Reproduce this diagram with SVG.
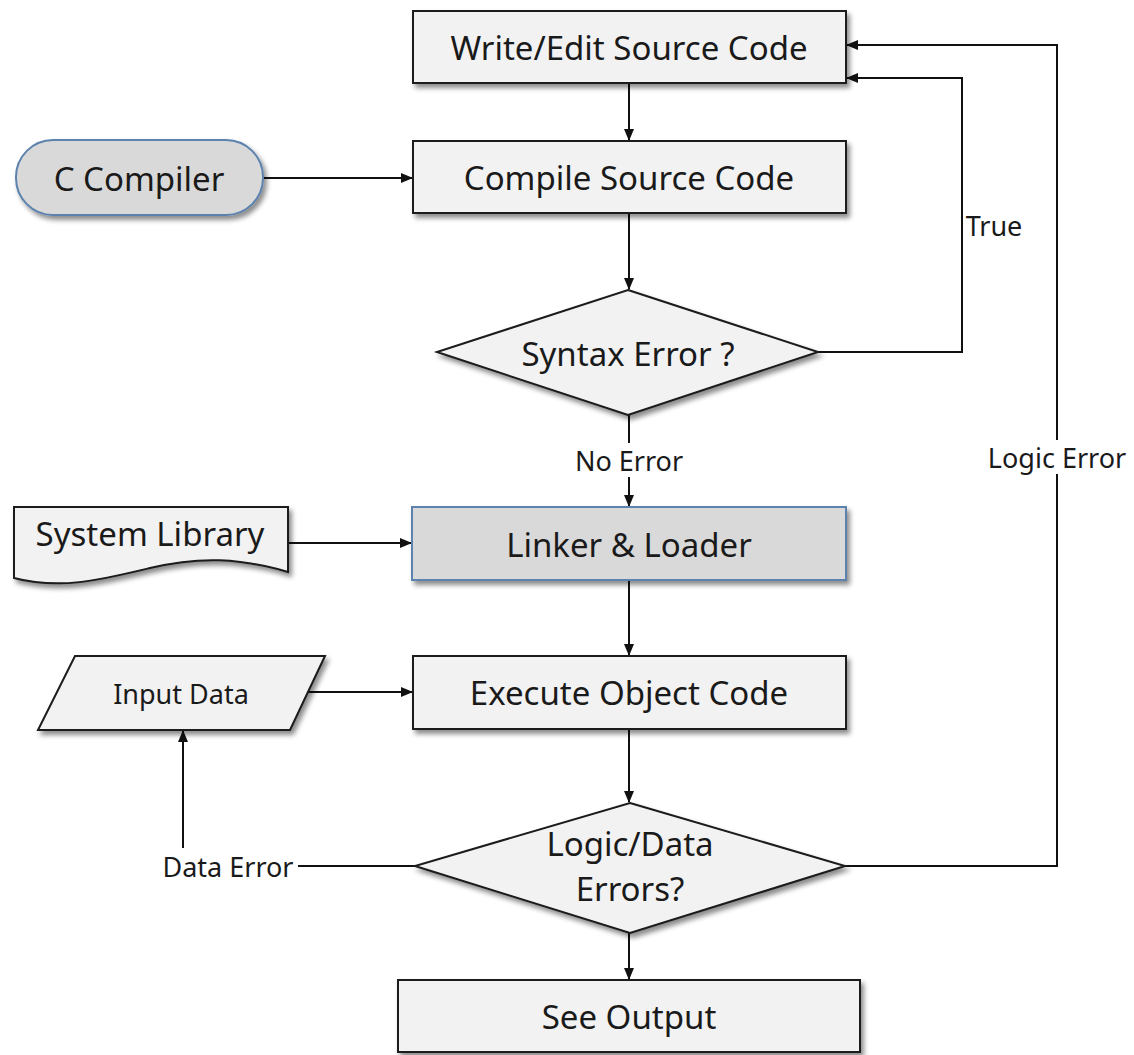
<svg xmlns="http://www.w3.org/2000/svg" width="1134" height="1055" viewBox="0 0 1134 1055">
  <defs>
    <filter id="shadow" x="-10%" y="-20%" width="130%" height="150%">
      <feDropShadow dx="3" dy="4" stdDeviation="2.5" flood-color="#000" flood-opacity="0.45"/>
    </filter>
    <marker id="arrow" markerUnits="userSpaceOnUse" markerWidth="12" markerHeight="10" refX="11" refY="5" orient="auto">
      <path d="M0,0 L12,5 L0,10 Z" fill="#111"/>
    </marker>
  </defs>
  <style>
    .box { fill: #f2f2f2; stroke: #1a1a1a; stroke-width: 2; }
    .term { fill: #d9d9d9; stroke: #5b82ad; stroke-width: 2; }
    .lbl { font-family: "Noto Sans", "Open Sans", sans-serif; font-size: 33px; fill: #1a1a1a; text-anchor: middle; dominant-baseline: central; }
    .small { font-family: "Noto Sans", "Open Sans", sans-serif; font-size: 27px; fill: #1a1a1a; text-anchor: middle; dominant-baseline: central; }
    .edge { fill: none; stroke: #111; stroke-width: 2; }
    .tag { fill: #fff; }
  </style>
  <rect width="1134" height="1055" fill="#fff"/>

  <g id="connectors">
    <path class="edge" d="M629,83 V140" marker-end="url(#arrow)"/>
    <path class="edge" d="M263,178 H412" marker-end="url(#arrow)"/>
    <path class="edge" d="M629,213 V289" marker-end="url(#arrow)"/>
    <path class="edge" d="M818,352 H962 V78 H847" marker-end="url(#arrow)"/>
    <path class="edge" d="M629,415 V506" marker-end="url(#arrow)"/>
    <path class="edge" d="M288,543 H411" marker-end="url(#arrow)"/>
    <path class="edge" d="M629,580 V655" marker-end="url(#arrow)"/>
    <path class="edge" d="M308,692 H412" marker-end="url(#arrow)"/>
    <path class="edge" d="M629,729 V802" marker-end="url(#arrow)"/>
    <path class="edge" d="M845,866 H1057 V45 H847" marker-end="url(#arrow)"/>
    <path class="edge" d="M415,866 H183 V731" marker-end="url(#arrow)"/>
    <path class="edge" d="M629,933 V979" marker-end="url(#arrow)"/>
    <!-- connector labels, with white backing where they sit on a line -->
    <text class="small" x="994" y="225">True</text>
    <rect class="tag" x="568" y="443" width="122" height="34"/>
    <text class="small" x="629" y="460">No Error</text>
    <rect class="tag" x="986" y="440" width="142" height="34"/>
    <text class="small" x="1057" y="457">Logic Error</text>
    <rect class="tag" x="158" y="848" width="140" height="36"/>
    <text class="small" x="228" y="866">Data Error</text>
  </g>

  <g id="write-edit">
    <rect class="box" x="413" y="11" width="433" height="72" filter="url(#shadow)"/>
    <text class="lbl" x="629" y="47">Write/Edit Source Code</text>
  </g>

  <g id="c-compiler">
    <rect class="term" x="16" y="140" width="247" height="75" rx="37" filter="url(#shadow)"/>
    <text class="lbl" x="139" y="178">C Compiler</text>
  </g>

  <g id="compile">
    <rect class="box" x="413" y="141" width="433" height="72" filter="url(#shadow)"/>
    <text class="lbl" x="629" y="177">Compile Source Code</text>
  </g>

  <g id="syntax-error">
    <polygon class="box" points="628,290 818,352 628,415 437,352" filter="url(#shadow)"/>
    <text class="lbl" x="628" y="353">Syntax Error ?</text>
  </g>

  <g id="system-library">
    <path class="box" d="M14,507 H288 V572 C240,558 200,556 150,568 S 60,590 14,578 Z" filter="url(#shadow)"/>
    <text class="lbl" x="150" y="533">System Library</text>
  </g>

  <g id="linker-loader">
    <rect class="term" x="412" y="507" width="434" height="73" filter="url(#shadow)"/>
    <text class="lbl" x="629" y="544">Linker &amp; Loader</text>
  </g>

  <g id="input-data">
    <polygon class="box" points="75,656 325,656 290,730 38,730" filter="url(#shadow)"/>
    <text class="small" x="181" y="693">Input Data</text>
  </g>

  <g id="execute">
    <rect class="box" x="413" y="656" width="433" height="73" filter="url(#shadow)"/>
    <text class="lbl" x="629" y="692">Execute Object Code</text>
  </g>

  <g id="logic-data">
    <polygon class="box" points="630,803 845,866 630,933 415,866" filter="url(#shadow)"/>
    <text class="lbl" x="630" y="843">Logic/Data</text>
    <text class="lbl" x="630" y="888">Errors?</text>
  </g>

  <g id="see-output">
    <rect class="box" x="398" y="980" width="462" height="72" filter="url(#shadow)"/>
    <text class="lbl" x="629" y="1016">See Output</text>
  </g>
</svg>
